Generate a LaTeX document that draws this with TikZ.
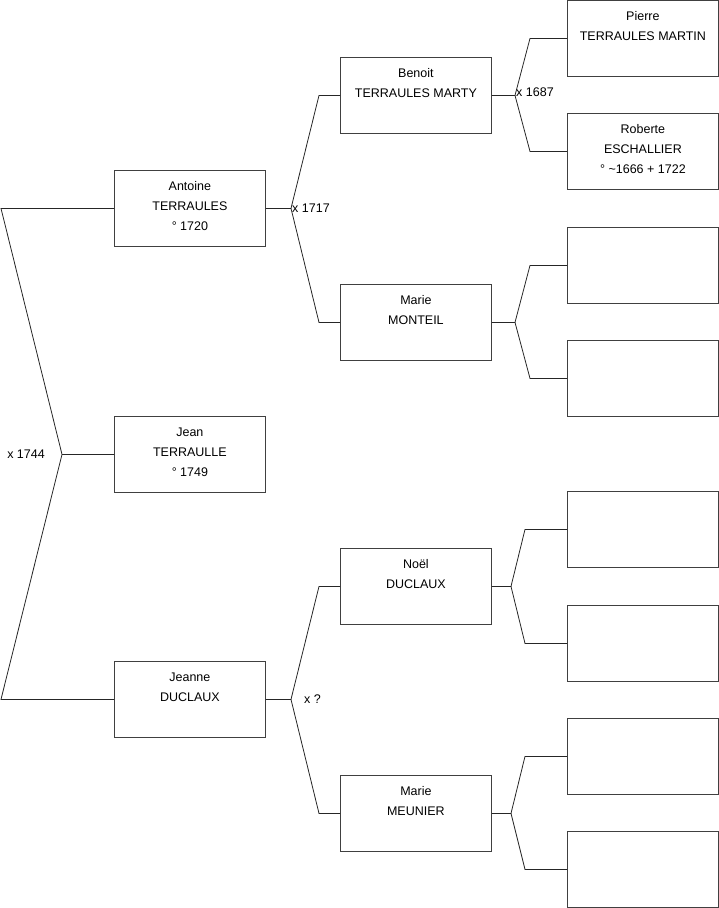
\documentclass[tikz,border=0pt]{standalone}
\usepackage{fontspec}
\setmainfont{Liberation Sans}
\usepackage{tikz}

\newcommand{\pinfo}[1]{\parbox[c][76pt][t]{151pt}{\centering\rule{0pt}{20.5pt}#1}}

\begin{document}
\begin{tikzpicture}[x=1pt,y=-1pt,
        font=\fontsize{12.5}{20}\selectfont,
        person/.style={draw=black!75, line width=0.8pt, inner sep=0pt, anchor=north west,
            minimum width=151pt, minimum height=76pt},
        link/.style={draw=black!85, line width=0.8pt},
        wed/.style={inner sep=1pt}]
        \useasboundingbox (0,0) rectangle (719,908);

        % Generation 1 and 2
        \node[person] (jean) at (114,416) {\pinfo{Jean\\TERRAULLE\\° 1749}};
        \node[person] (antoine) at (114,170) {\pinfo{Antoine\\TERRAULES\\° 1720}};
        \node[person] (jeanne) at (114,661) {\pinfo{Jeanne\\DUCLAUX}};

        % Generation 3
        \node[person] (benoit) at (340,57) {\pinfo{Benoit\\TERRAULES MARTY}};
        \node[person] (mmonteil) at (340,284) {\pinfo{Marie\\MONTEIL}};
        \node[person] (noel) at (340,548) {\pinfo{Noël\\DUCLAUX}};
        \node[person] (mmeunier) at (340,775) {\pinfo{Marie\\MEUNIER}};

        % Generation 4
        \node[person] (pierre) at (567,0) {\pinfo{Pierre\\TERRAULES MARTIN}};
        \node[person] (roberte) at (567,113) {\pinfo{Roberte\\ESCHALLIER\\° \textasciitilde1666 + 1722}};
        \foreach \name/\ytop in {e3/227, e4/340, e5/491, e6/605, e7/718, e8/831}
            \node[person] (\name) at (567,\ytop) {};

        % Junctions
        \coordinate (jjean) at (jean.west -| 62,0);
        \coordinate (jantoine) at (antoine.east -| 291,0);
        \coordinate (jjeanne) at (jeanne.east -| 291,0);
        \coordinate (jbenoit) at (benoit.east -| 515,0);
        \coordinate (jmonteil) at (mmonteil.east -| 515,0);
        \coordinate (jnoel) at (noel.east -| 511,0);
        \coordinate (jmeunier) at (mmeunier.east -| 511,0);

        \draw[link] (antoine.west) -- (antoine.west -| 1,0) -- (jjean) -- (jeanne.west -| 1,0) -- (jeanne.west);
        \draw[link] (jjean) -- (jean.west);

        \draw[link] (antoine.east) -- (jantoine) -- ([xshift=-21pt]benoit.west) -- (benoit.west);
        \draw[link] (jantoine) -- ([xshift=-21pt]mmonteil.west) -- (mmonteil.west);
        \draw[link] (jeanne.east) -- (jjeanne) -- ([xshift=-21pt]noel.west) -- (noel.west);
        \draw[link] (jjeanne) -- ([xshift=-21pt]mmeunier.west) -- (mmeunier.west);

        \draw[link] (benoit.east) -- (jbenoit) -- ([xshift=-37pt]pierre.west) -- (pierre.west);
        \draw[link] (jbenoit) -- ([xshift=-37pt]roberte.west) -- (roberte.west);
        \draw[link] (mmonteil.east) -- (jmonteil) -- ([xshift=-37pt]e3.west) -- (e3.west);
        \draw[link] (jmonteil) -- ([xshift=-37pt]e4.west) -- (e4.west);
        \draw[link] (noel.east) -- (jnoel) -- ([xshift=-42pt]e5.west) -- (e5.west);
        \draw[link] (jnoel) -- ([xshift=-42pt]e6.west) -- (e6.west);
        \draw[link] (mmeunier.east) -- (jmeunier) -- ([xshift=-42pt]e7.west) -- (e7.west);
        \draw[link] (jmeunier) -- ([xshift=-42pt]e8.west) -- (e8.west);

        % Marriages
        \node[wed, anchor=east, xshift=-16pt] (m1744) at (jjean) {x 1744};
        \node[wed, anchor=west] (m1717) at (jantoine) {x 1717};
        \node[wed, anchor=west, xshift=12pt] (mwhat) at (jjeanne) {x ?};
        \node[wed, anchor=west, yshift=3pt] (m1687) at (jbenoit) {x 1687};
    \end{tikzpicture}
\end{document}
